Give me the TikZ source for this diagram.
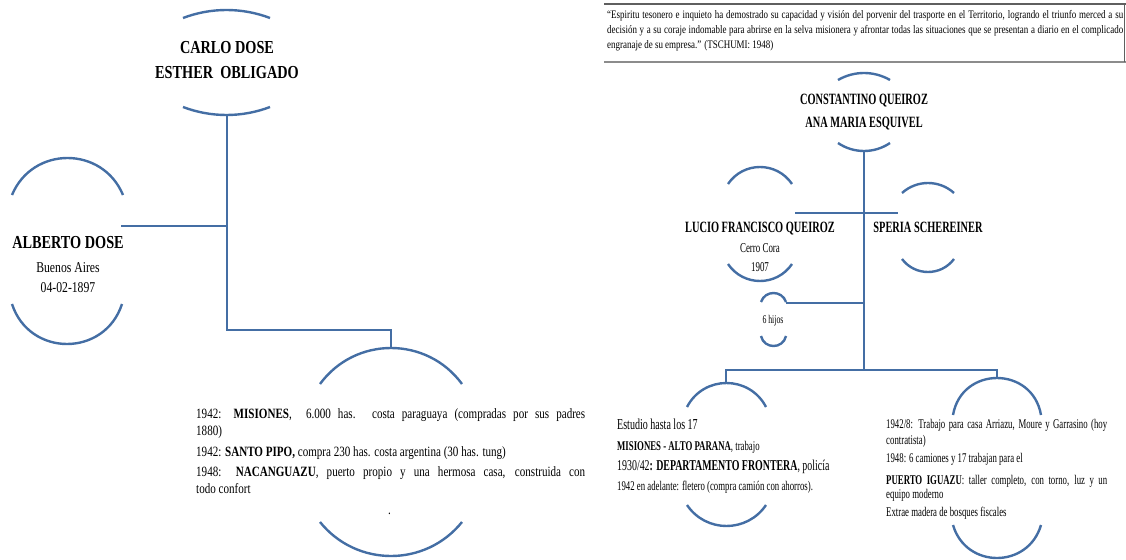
\documentclass[tikz,border=0pt]{standalone}
\usepackage{fontspec}
\setmainfont{Liberation Serif}[FakeStretch=0.78]
\newfontfamily\rfam{Liberation Serif}[FakeStretch=0.66]
\definecolor{treeblue}{RGB}{68,110,164}
\definecolor{rulegray}{RGB}{95,95,95}
\definecolor{rulegrayb}{RGB}{140,140,140}
\tikzset{
  arcln/.style={draw=treeblue, line width=2.4pt},
  conn/.style={draw=treeblue, line width=2.6pt},
  txt/.style={inner sep=0pt, anchor=base, text=black},
  txtw/.style={inner sep=0pt, anchor=base west, text=black},
  lname/.style={txt, font=\fontsize{18.3pt}{22pt}\selectfont\bfseries},
  lsmall/.style={txt, font=\fontsize{15pt}{18pt}\selectfont},
  lpar/.style={txtw, font=\fontsize{14.2pt}{17pt}\selectfont},
  qtxt/.style={txtw, font=\fontsize{11.5pt}{14pt}\selectfont},
  rname/.style={txt, font=\rfam\fontsize{15.7pt}{18pt}\selectfont\bfseries},
  rsmall/.style={txt, font=\rfam\fontsize{13.3pt}{16pt}\selectfont},
  rpar/.style={txtw, font=\rfam\fontsize{13.3pt}{16pt}\selectfont},
}
% circular arc from (x1,ye) to (x2,ye) through its extreme point at height yp
\newcommand{\harc}[4]{\draw[arcln] (#1,#3) .. controls ({#1+0.6667*((#2-#1)/2-(#4-#3)*(#4-#3)/((#2-#1)/2))},{(4*#4-#3)/3}) and ({#2-0.6667*((#2-#1)/2-(#4-#3)*(#4-#3)/((#2-#1)/2))},{(4*#4-#3)/3}) .. (#2,#3);}
\begin{document}
\begin{tikzpicture}[x=1pt,y=-1pt]
\useasboundingbox (0,0) rectangle (1126,559);

% ---------------- left tree ----------------
% Carlo Dose / Esther Obligado
\harc{183}{270}{18}{10}
\harc{183}{270}{107}{115}
\node[lname] (carlo1) at (227,54) {CARLO DOSE};
\node[lname] (carlo2) at (227,79) {ESTHER\ \ OBLIGADO};
\coordinate (carloBot) at (227,115);

% Alberto Dose
\harc{12}{123}{195}{158}
\harc{12}{122}{304}{344}
\node[lname] (alb1) at (68,248) {ALBERTO DOSE};
\node[lsmall] (alb2) at (68,272) {Buenos Aires};
\node[lsmall] (alb3) at (68,292) {04-02-1897};
\coordinate (albR) at (121,226);

% child block
\harc{320}{462}{384}{348}
\harc{320}{462}{522}{556}
\coordinate (misTop) at (391,348);
\node[lpar] (m1) at (196,418) {\makebox[389pt][s]{1942: \textbf{MISIONES},\ \ 6.000 has. costa paraguaya (compradas por sus padres}};
\node[lpar] (m2) at (196,435) {1880)};
\node[lpar] (m3) at (196,456) {1942: \textbf{SANTO PIPO,} compra 230 has. costa argentina (30 has. tung)};
\node[lpar] (m4) at (196,476) {\makebox[389pt][s]{1948: \textbf{NACANGUAZU}, puerto propio y una hermosa casa, construida con}};
\node[lpar] (m5) at (196,493) {todo confort};
\node[lpar] (dot) at (388,514) {.};

% connectors
\coordinate (j1) at (227,330);
\draw[conn] (carloBot) -- (j1) -| (misTop);
\draw[conn] (albR) -- (albR -| carloBot);

% ---------------- quote box ----------------
\draw[rulegray, line width=1.8pt] (604,4) -- (1126,4);
\draw[rulegrayb, line width=2.6pt] (604,62) -- (1126,62);
\draw[rulegray, line width=0.8pt] (1124.6,4) -- (1124.6,62);
\node[qtxt] (q1) at (607,19) {\makebox[516pt][s]{“Espiritu tesonero e inquieto ha demostrado su capacidad y visión del porvenir del trasporte en el Territorio, logrando el triunfo merced a su}};
\node[qtxt] (q2) at (607,34) {\makebox[516pt][s]{decisión y a su coraje indomable para abrirse en la selva misionera y afrontar todas las situaciones que se presentan a diario en el complicado}};
\node[qtxt] (q3) at (607,49) {engranaje de su empresa.” (TSCHUMI: 1948)};

% ---------------- right tree ----------------
% Constantino Queiroz / Ana Maria Esquivel
\harc{838}{890}{80}{73}
\harc{838}{890}{143}{151}
\node[rname] (const1) at (864,104.5) {CONSTANTINO QUEIROZ};
\node[rname] (const2) at (864,127.5) {ANA MARIA ESQUIVEL};
\coordinate (constBot) at (864,151);

% Lucio Francisco Queiroz
\harc{728}{792}{184}{167}
\harc{728}{792}{264}{281}
\node[rname] (lucio) at (760,232.5) {LUCIO FRANCISCO QUEIROZ};
\node[rsmall, font=\rfam\fontsize{13.5pt}{16pt}\selectfont] (lucio2) at (760,252.5) {Cerro Cora};
\node[rsmall, font=\rfam\fontsize{13.5pt}{16pt}\selectfont] (lucio3) at (760,271.5) {1907};
\coordinate (lucR) at (795,213);

% Speria Schereiner
\harc{902}{954}{193}{183}
\harc{902}{954}{259}{272}
\node[rname] (speria) at (928,232.5) {SPERIA SCHEREINER};
\coordinate (spL) at (898,213);

% 6 hijos
\harc{761}{786}{302}{293}
\harc{761}{786}{336}{346}
\node[rsmall, font=\rfam\fontsize{11.8pt}{14pt}\selectfont] (hijos) at (773,323) {6 hijos};
\coordinate (hijosR) at (786,303);

% left child
\harc{687}{766}{407}{383}
\harc{687}{766}{505}{526}
\coordinate (estTop) at (726,383);
\node[rpar, font=\rfam\fontsize{15.2pt}{18pt}\selectfont] (e1) at (617,429) {Estudio hasta los 17};
\node[rpar] (e2) at (617,450) {\textbf{MISIONES - ALTO PARANA}, trabajo};
\node[rpar, font=\rfam\fontsize{15pt}{18pt}\selectfont] (e3) at (617,470.5) {1930/42\textbf{: DEPARTAMENTO FRONTERA}, policía};
\node[rpar] (e4) at (617,490.5) {1942 en adelante: fletero (compra camión con ahorros).};

% right child
\harc{953}{1041}{415}{378}
\harc{953}{1041}{525}{558}
\coordinate (puTop) at (997,378);
\node[rpar] (r1) at (886,428) {\makebox[221pt][s]{1942/8: Trabajo para casa Arriazu, Moure y Garrasino (hoy}};
\node[rpar] (r2) at (886,444) {contratista)};
\node[rpar] (r3) at (886,462.5) {1948: 6 camiones y 17 trabajan para el};
\node[rpar] (r4) at (886,484) {\makebox[221pt][s]{\textbf{PUERTO IGUAZU}: taller completo, con torno, luz y un}};
\node[rpar] (r5) at (886,498) {equipo moderno};
\node[rpar] (r6) at (886,516.5) {Extrae madera de bosques fiscales};

% connectors
\coordinate (j2) at (864,370);
\draw[conn] (constBot) -- (j2);
\draw[conn] (lucR) -- (spL);
\draw[conn] (hijosR) -- (hijosR -| constBot);
\draw[conn] (j2) -| (estTop);
\draw[conn] (j2) -| (puTop);
\end{tikzpicture}
\end{document}
